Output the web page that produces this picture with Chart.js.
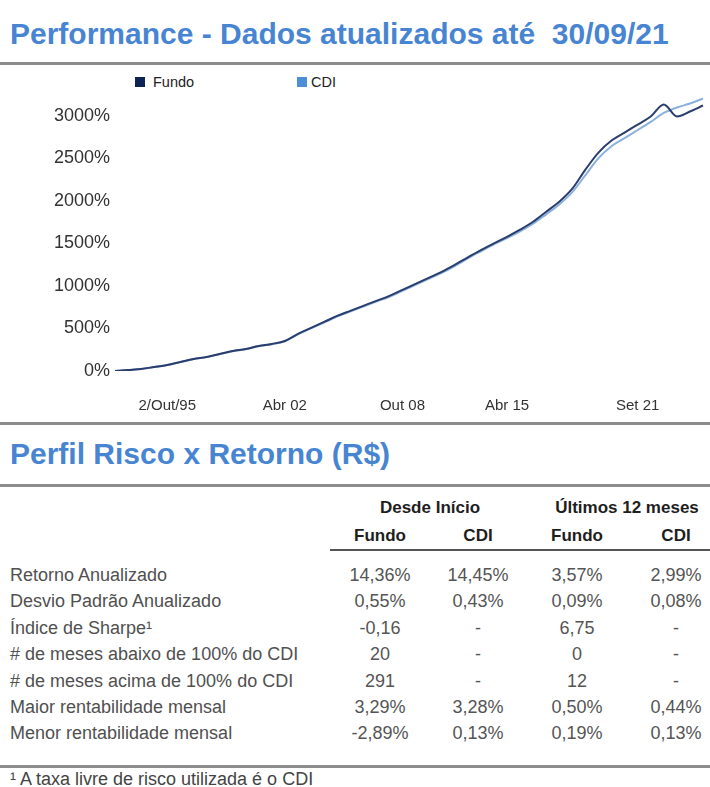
<!DOCTYPE html>
<html lang="pt-BR">
<head>
<meta charset="utf-8">
<title>Performance</title>
<script src="https://cdn.jsdelivr.net/npm/chart.js@4.4.0/dist/chart.umd.min.js"></script>
<style>
  html, body { margin: 0; padding: 0; background: #fff; }
  body { width: 710px; height: 787px; position: relative; overflow: hidden;
         font-family: "Liberation Sans", Arial, sans-serif; color: #4a4a4a; }
  .titulo { position: absolute; left: 10px; font-size: 30px; font-weight: bold;
            color: #4785d2; white-space: pre; line-height: 30px; }
  .regua { position: absolute; left: 0; width: 710px; height: 3px; background: #8c8c8c; }
  #caixa-grafico { position: absolute; left: 0; top: 66px; width: 710px; height: 360px; }
  .leg-cor { position: absolute; width: 10px; height: 10px; }
  .leg-txt { position: absolute; top: 75px; font-size: 14.5px; line-height: 14px; color: #222; }
  .cel { position: absolute; font-size: 18px; line-height: 18px; white-space: nowrap; }
  .num { width: 100px; text-align: center; }
  .cab { font-weight: bold; font-size: 17px; color: #1e1e1e; text-align: center; width: 160px; }
</style>
</head>
<body>

<div class="titulo" style="top:19px">Performance - Dados atualizados até  30/09/21</div>
<div class="regua" style="top:62px"></div>

<div class="leg-cor" id="cor-fundo" style="left:135px; top:77px"></div>
<div class="leg-txt" style="left:153px">Fundo</div>
<div class="leg-cor" id="cor-cdi" style="left:297px; top:77px"></div>
<div class="leg-txt" style="left:311px">CDI</div>

<div id="caixa-grafico"><canvas id="grafico" width="710" height="360"></canvas></div>

<div class="regua" style="top:422px"></div>
<div class="titulo" style="top:439px">Perfil Risco x Retorno (R$)</div>
<div class="regua" style="top:484px"></div>

<div id="tabela"></div>

<script>
// rentabilidade acumulada (%) de cada série
const rotulosX = [
    '', '', '', '', '2/Out/95', '', '', '', '', '', '', '', '', 'Abr 02', '', '',
    '', '', '', '', '', '', 'Out 08', '', '', '', '', '', '', '', 'Abr 15', '',
    '', '', '', '', '', '', '', '', 'Set 21', '', '', '', '', ''
];
const fundo = [
    0, 12, 24, 47, 71, 106, 141, 165, 200, 235, 259, 294, 318, 353, 435, 506,
    576, 647, 706, 765, 824, 882, 953, 1024, 1094, 1165, 1247, 1335, 1420, 1500, 1576, 1659,
    1753, 1871, 1988, 2141, 2365, 2565, 2706, 2800, 2894, 2988, 3130, 2990, 3047, 3118
];
const cdi = [
    0, 12, 23, 46, 70, 104, 139, 163, 197, 232, 256, 290, 314, 349, 430, 500,
    569, 640, 698, 757, 815, 872, 942, 1012, 1082, 1152, 1233, 1322, 1405, 1487, 1560, 1640,
    1730, 1840, 1955, 2100, 2300, 2500, 2640, 2735, 2830, 2925, 3030, 3094, 3141, 3200
];
const ticksY = [0, 500, 1000, 1500, 2000, 2500, 3000];

// tabela risco x retorno
const linhas = [
    'Retorno Anualizado',
    'Desvio Padrão Anualizado',
    'Índice de Sharpe¹',
    '# de meses abaixo de 100% do CDI',
    '# de meses acima de 100% do CDI',
    'Maior rentabilidade mensal',
    'Menor rentabilidade mensal'
];
const fundoInicio = ['14,36%', '0,55%', '-0,16', '20', '291', '3,29%', '-2,89%'];
const cdiInicio   = ['14,45%', '0,43%', '-', '-', '-', '3,28%', '0,13%'];
const fundo12m    = ['3,57%', '0,09%', '6,75', '0', '12', '0,50%', '0,19%'];
const cdi12m      = ['2,99%', '0,08%', '-', '-', '-', '0,44%', '0,13%'];

const COR_FUNDO = '#0d2255';
const COR_CDI = '#4d8fd6';
document.getElementById('cor-fundo').style.background = COR_FUNDO;
document.getElementById('cor-cdi').style.background = COR_CDI;

const ctx = document.getElementById('grafico').getContext('2d');
new Chart(ctx, {
    type: 'line',
    data: {
        labels: rotulosX,
        datasets: [
            { label: 'Fundo', data: fundo, borderColor: '#2a3d6c', borderWidth: 2,
              pointRadius: 0, cubicInterpolationMode: 'monotone' },
            { label: 'CDI', data: cdi, borderColor: '#8ab1dd', borderWidth: 2,
              pointRadius: 0, cubicInterpolationMode: 'monotone' }
        ]
    },
    options: {
        responsive: false,
        animation: false,
        layout: { padding: { left: 0, right: 7, top: 24, bottom: 0 } },
        plugins: { legend: { display: false }, tooltip: { enabled: false } },
        scales: {
            x: {
                grid: { display: false, drawTicks: false },
                border: { display: false },
                ticks: { autoSkip: false, maxRotation: 0, padding: 26,
                         color: '#333', font: { family: 'Liberation Sans', size: 15 } },
                afterFit: s => { s.height = 55; s.paddingLeft = 0; s.paddingRight = 0; }
            },
            y: {
                min: 0,
                max: 3300,
                grid: { display: false, drawTicks: false },
                border: { display: false },
                afterBuildTicks: s => { s.ticks = ticksY.map(v => ({ value: v })); },
                ticks: { padding: 5, color: '#333', font: { family: 'Liberation Sans', size: 18 },
                         callback: v => v + '%' },
                afterFit: s => { s.width = 115; s.paddingTop = 0; s.paddingBottom = 0; }
            }
        }
    }
});

// monta a tabela
const tabela = document.getElementById('tabela');
function cel(txt, cls, left, top, cor) {
    const d = document.createElement('div');
    d.className = 'cel ' + cls;
    d.textContent = txt;
    d.style.left = left + 'px';
    d.style.top = top + 'px';
    if (cor) d.style.color = cor;
    tabela.appendChild(d);
}
const colunas = [380, 478, 577, 676];
cel('Desde Início', 'cab', 430 - 80, 499);
cel('Últimos 12 meses', 'cab', 627 - 80, 499);
['Fundo', 'CDI', 'Fundo', 'CDI'].forEach((t, i) => cel(t, 'cab', colunas[i] - 80, 527));

const reg = document.createElement('div');
reg.className = 'regua';
reg.style.cssText = 'top:549px; left:330px; width:380px; height:2px; background:#555';
tabela.appendChild(reg);

linhas.forEach((nome, i) => {
    const top = 566 + i * 26.4;
    cel(nome, '', 10, top, '#505050');
    [fundoInicio, cdiInicio, fundo12m, cdi12m].forEach((col, j) => {
        cel(col[i], 'num', colunas[j] - 50, top, '#555');
    });
});

const regFim = document.createElement('div');
regFim.className = 'regua';
regFim.style.top = '765px';
tabela.appendChild(regFim);
cel('¹ A taxa livre de risco utilizada é o CDI', '', 10, 770, '#444');
</script>
</body>
</html>
